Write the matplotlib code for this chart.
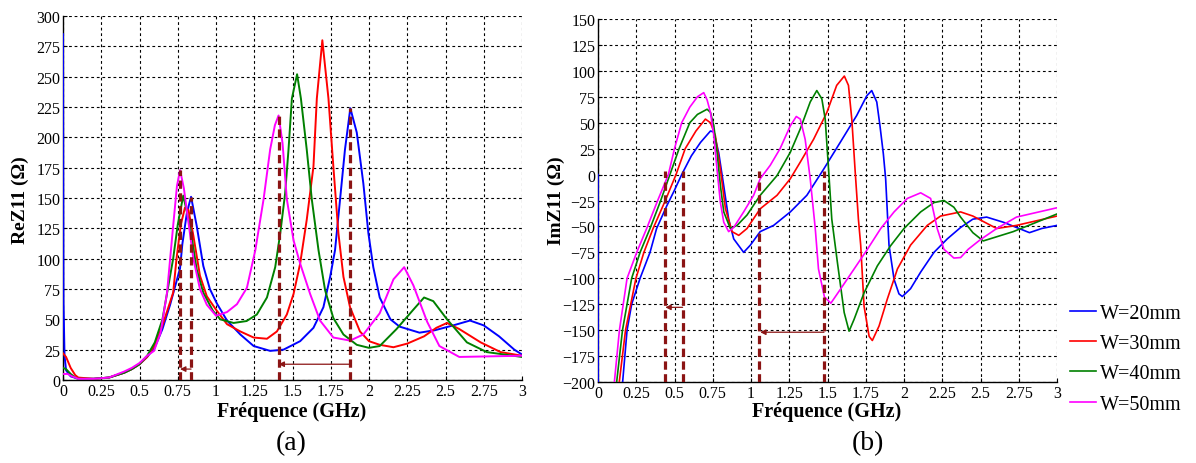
import matplotlib
matplotlib.use("Agg")

import matplotlib.pyplot as plt

plt.rcParams["font.family"] = ["Liberation Serif", "DejaVu Serif"]

# ---------------- data: ReZ11 (a) ----------------
re_f_20 = [0, 0.003, 0.01, 0.02, 0.05, 0.1, 0.2, 0.3, 0.4, 0.45, 0.5, 0.55, 0.6, 0.65, 0.7, 0.765,
           0.78, 0.81, 0.837, 0.874, 0.917, 0.96, 1.006, 1.072, 1.159, 1.246, 1.354, 1.441, 1.55,
           1.637, 1.702, 1.746, 1.778, 1.811, 1.843, 1.878, 1.92, 1.963, 1.996, 2.028, 2.07, 2.14,
           2.2, 2.33, 2.43, 2.55, 2.66, 2.75, 2.85, 2.95, 3.0]
re_v_20 = [285, 65, 20, 8, 3, 1, 1, 2, 6, 9, 13, 19, 27, 42, 62, 92,
           112, 138, 151, 127, 94, 75, 63, 49, 37.5, 28, 24, 25, 32,
           43, 60, 85, 107, 149, 190, 224, 204, 162, 121, 93, 68, 50,
           44, 39, 41, 45, 49, 45, 36, 25, 21]

re_f_30 = [0, 0.02, 0.05, 0.08, 0.1, 0.2, 0.3, 0.4, 0.45, 0.5, 0.55, 0.6, 0.65, 0.72, 0.742, 0.77,
           0.797, 0.82, 0.852, 0.895, 0.94, 1.0, 1.072, 1.159, 1.246, 1.333, 1.398, 1.463, 1.507,
           1.55, 1.593, 1.637, 1.659, 1.695, 1.735, 1.767, 1.8, 1.833, 1.876, 1.941, 2.0, 2.07,
           2.16, 2.25, 2.36, 2.44, 2.51, 2.59, 2.73, 2.86, 3.0]
re_v_30 = [22, 19, 10, 4, 2, 1, 2, 6, 9, 13, 19, 29, 45, 72, 100, 128,
           142, 140, 119, 86, 69, 58, 46, 40, 35, 34, 40, 54, 71,
           96, 132, 176, 232, 280, 232, 176, 121, 85, 60, 40, 32, 29,
           27, 30, 36, 43, 47, 42, 31, 23, 20]

re_f_40 = [0, 0.02, 0.05, 0.08, 0.1, 0.2, 0.3, 0.4, 0.45, 0.5, 0.55, 0.6, 0.65, 0.72, 0.75, 0.786,
           0.83, 0.874, 0.917, 0.98, 1.028, 1.115, 1.2, 1.267, 1.333, 1.387, 1.42, 1.452, 1.474,
           1.496, 1.53, 1.555, 1.593, 1.626, 1.67, 1.713, 1.767, 1.833, 1.92, 2.0, 2.07, 2.18, 2.29,
           2.36, 2.42, 2.51, 2.64, 2.77, 3.0]
re_v_40 = [10, 9, 5, 2, 1, 1, 2, 6, 9, 13, 20, 31, 50, 100, 128, 152,
           127, 91, 72, 57, 50, 47, 48.6, 54, 68, 93, 121, 154, 190,
           232, 252, 232, 190, 149, 107, 74, 51, 37.5, 29, 26.5, 28, 42, 58,
           68, 65, 50, 31, 23, 19]

re_f_50 = [0, 0.03, 0.06, 0.1, 0.2, 0.3, 0.4, 0.45, 0.5, 0.55, 0.595, 0.638, 0.68, 0.72, 0.745, 0.765,
           0.79, 0.808, 0.852, 0.895, 0.94, 1.0, 1.072, 1.137, 1.202, 1.257, 1.311, 1.354, 1.385,
           1.409, 1.435, 1.463, 1.507, 1.55, 1.615, 1.68, 1.767, 1.876, 1.963, 2.07, 2.16, 2.23,
           2.29, 2.38, 2.46, 2.59, 3.0]
re_v_50 = [5, 5, 3, 1, 1, 2, 7, 10, 14, 20, 24, 39, 72, 127, 160, 173,
           158, 141, 100, 75, 62, 53, 56, 62.5, 76, 107, 149, 190, 210,
           218, 195, 149, 115, 96, 71, 49, 35, 32.5, 37.5, 55, 83, 93,
           78, 48, 28, 19, 20]

re_mark_f = [0.765, 0.837, 1.409, 1.878]
re_mark_top = [173, 151, 218, 224]
re_arrows = [(0.837, 0.765, 9), (1.878, 1.409, 13)]

# ---------------- data: ImZ11 (b) ----------------
im_f_20 = [0, 0.001, 0.15, 0.161, 0.19, 0.22, 0.275, 0.34, 0.383, 0.45, 0.5, 0.547, 0.61, 0.67,
           0.735, 0.757, 0.789, 0.822, 0.854, 0.887, 0.952, 0.996, 1.06, 1.148, 1.257, 1.365,
           1.474, 1.583, 1.691, 1.757, 1.789, 1.822, 1.843, 1.865, 1.88, 1.902, 1.935, 1.967,
           1.989, 2.043, 2.109, 2.196, 2.283, 2.37, 2.45, 2.54, 2.65, 2.82, 2.9, 3.0]
im_v_20 = [0, -250, -250, -200, -150, -125, -100, -75, -52, -30, -15, 0, 18, 31,
           42, 41, 21, -11, -43, -62, -75, -68, -55, -49, -36, -20,
           5, 31, 57, 76, 81, 70, 47, 20, -4, -68, -101, -115,
           -117.6, -110, -94, -75, -62, -51, -43, -41, -46, -56, -52, -49]

im_f_30 = [0.139, 0.18, 0.248, 0.3, 0.36, 0.44, 0.51, 0.57, 0.64, 0.702, 0.735, 0.767, 0.8,
           0.833, 0.876, 0.92, 0.974, 1.06, 1.17, 1.257, 1.322, 1.409, 1.496, 1.56, 1.61, 1.637,
           1.659, 1.68, 1.702, 1.717, 1.739, 1.772, 1.793, 1.837, 1.891, 1.957, 2.043, 2.152,
           2.239, 2.37, 2.45, 2.606, 2.735, 3.0]
im_v_30 = [-200, -150, -100, -75, -52, -25, 0, 25, 42, 53.5, 50, 37.5, 5,
           -33, -55, -58.6, -52, -33, -20, -4, 12, 34, 60, 86, 95, 86,
           53, 5, -43, -68, -127, -156, -160, -146, -120, -91, -68, -49,
           -40, -36, -40, -52, -49, -40]

im_f_40 = [0.122, 0.16, 0.22, 0.275, 0.34, 0.41, 0.47, 0.53, 0.6, 0.65, 0.713, 0.735, 0.757,
           0.778, 0.8, 0.822, 0.865, 0.909, 0.974, 1.06, 1.17, 1.257, 1.322, 1.387, 1.43, 1.463,
           1.485, 1.507, 1.528, 1.565, 1.609, 1.641, 1.674, 1.739, 1.826, 1.913, 2.0, 2.109,
           2.196, 2.261, 2.326, 2.37, 2.45, 2.518, 2.714, 3.0]
im_v_40 = [-200, -150, -100, -75, -52, -25, 0, 25, 50, 58, 63, 60, 47,
           21.5, -10.6, -36, -52, -49, -39, -20, -1, 21.5, 44, 70, 81, 73,
           53.5, 5, -43, -85, -133, -151, -139.5, -114, -88, -68.5, -52, -36,
           -27, -25, -31.5, -41, -56, -64, -55, -38]

im_f_50 = [0.107, 0.14, 0.19, 0.253, 0.318, 0.39, 0.46, 0.5, 0.547, 0.6, 0.65, 0.691, 0.713,
           0.735, 0.757, 0.778, 0.8, 0.822, 0.854, 0.887, 0.952, 1.017, 1.06, 1.126, 1.19, 1.257,
           1.296, 1.322, 1.354, 1.387, 1.42, 1.441, 1.48, 1.522, 1.587, 1.674, 1.761, 1.848,
           1.935, 2.022, 2.109, 2.174, 2.217, 2.261, 2.326, 2.37, 2.42, 2.497, 2.606, 2.735, 3.0]
im_v_50 = [-200, -150, -100, -75, -52, -25, 0, 25, 50, 65, 75, 79, 72,
           60, 37.5, 5, -27, -46, -55, -51, -36, -20, -4, 9, 25, 47,
           56, 53.5, 34, -4, -52, -91, -118, -124, -110, -91, -72, -52,
           -36, -23, -17.6, -23, -52, -72, -80.5, -80, -72, -63, -52, -41, -32]

im_mark_f = [0.44, 0.553, 1.054, 1.477]
im_mark_top = [3, 3, 3, 3]
im_arrows = [(0.553, 0.44, -128), (1.477, 1.06, -152)]

labels = ["W=20mm", "W=30mm", "W=40mm", "W=50mm"]
colors = ["#0000ff", "#ff0000", "#008000", "#ff00ff"]

x_ticks = [0, 0.25, 0.5, 0.75, 1, 1.25, 1.5, 1.75, 2, 2.25, 2.5, 2.75, 3]
x_ticklabels = ["0", "0.25", "0.5", "0.75", "1", "1.25", "1.5", "1.75", "2", "2.25", "2.5", "2.75", "3"]

MARK_COLOR = "#8b1414"


def style_axes(ax, yticks):
    ax.set_xlim(0, 3)
    ax.set_xticks(x_ticks)
    ax.set_xticklabels(x_ticklabels)
    ax.set_yticks(yticks)
    ax.set_ylim(yticks[0], yticks[-1])
    ax.grid(True, color="black", linestyle=(0, (2.5, 2.5)), linewidth=0.8)
    ax.set_axisbelow(True)
    for side in ("top", "right"):
        ax.spines[side].set_visible(False)
    ax.spines["left"].set_linewidth(1.0)
    ax.spines["bottom"].set_linewidth(1.0)
    ax.tick_params(direction="in", length=3, labelsize=11.5, pad=2)


def draw_markers(ax, freqs, tops, bottom, arrows):
    for f, top in zip(freqs, tops):
        ax.plot([f, f], [bottom, top], color=MARK_COLOR, lw=2.3,
                linestyle=(0, (2.6, 1.4)), zorder=4)
    for x0, x1, y in arrows:
        ax.annotate("", xy=(x1, y), xytext=(x0, y),
                    arrowprops=dict(arrowstyle="-|>", color=MARK_COLOR, lw=0.9,
                                    mutation_scale=8, shrinkA=0, shrinkB=0),
                    zorder=5)


fig = plt.figure(figsize=(11.96, 4.64), dpi=100)

ax1 = fig.add_axes([63 / 1196, 1 - 381 / 464, 459 / 1196, 364 / 464])
ax2 = fig.add_axes([598 / 1196, 1 - 383 / 464, 459 / 1196, 363 / 464])

re_series = [(re_f_20, re_v_20), (re_f_30, re_v_30), (re_f_40, re_v_40), (re_f_50, re_v_50)]
im_series = [(im_f_20, im_v_20), (im_f_30, im_v_30), (im_f_40, im_v_40), (im_f_50, im_v_50)]

style_axes(ax1, list(range(0, 301, 25)))
for (f, v), c in zip(re_series, colors):
    ax1.plot(f, v, color=c, lw=1.4, zorder=3)
draw_markers(ax1, re_mark_f, re_mark_top, 0, re_arrows)

style_axes(ax2, list(range(-200, 151, 25)))
lines = []
for (f, v), c, lab in zip(im_series, colors, labels):
    ln, = ax2.plot(f, v, color=c, lw=1.2, zorder=3, label=lab)
    lines.append(ln)
draw_markers(ax2, im_mark_f, im_mark_top, -200, im_arrows)

for cx in (292, 827):
    fig.text(cx / 1196, 1 - 412 / 464, "Fréquence (GHz)", ha="center", va="center",
             fontsize=14.5, fontweight="bold")

fig.text(20 / 1196, 1 - 200 / 464, "ReZ11 (Ω)", rotation=90, ha="center", va="center",
         fontsize=14, fontweight="bold")
fig.text(556 / 1196, 1 - 201 / 464, "ImZ11 (Ω)", rotation=90, ha="center", va="center",
         fontsize=14, fontweight="bold")

fig.text(291 / 1196, 1 - 444 / 464, "(a)", ha="center", va="center", fontsize=20)
fig.text(868 / 1196, 1 - 444 / 464, "(b)", ha="center", va="center", fontsize=20)

fig.legend(handles=lines, labels=labels, loc="upper left",
           bbox_to_anchor=(1070 / 1196, 1 - 305 / 464), frameon=False,
           fontsize=14.5, handlelength=1.3, handletextpad=0.2, labelspacing=0.55,
           borderaxespad=0, borderpad=0)

fig.savefig("out.png", dpi=100)
plt.close(fig)
